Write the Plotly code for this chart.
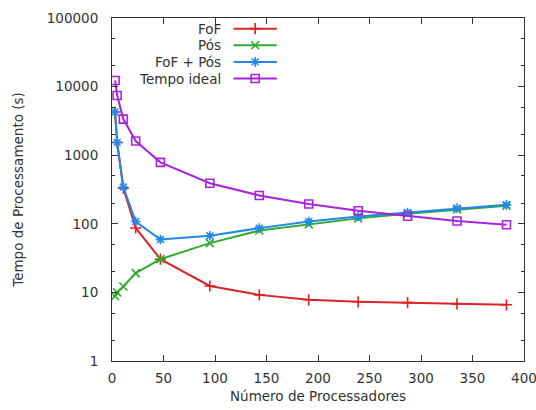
import plotly.graph_objects as go

# Número de processadores (trabalhadores)
processadores = [3, 5, 11, 23, 47, 95, 143, 191, 239, 287, 335, 383]

# Tempos medidos (s)
tempo_fof = [4260, 1530, 330, 87, 30.5, 12.4, 9.2, 7.8, 7.3, 7.1, 6.8, 6.6]
tempo_pos = [8.8, 10.0, 12.2, 19.1, 30.5, 52.3, 79.8, 98, 120, 140, 162, 183]
tempo_fof_pos = [4275, 1538, 343, 108, 59, 66.8, 86.5, 108, 128, 146, 169, 189]
tempo_ideal = [12300, 7400, 3360, 1610, 787, 390, 259, 194, 155, 129, 110, 97]

series = [
    ("FoF", tempo_fof, "#dd2222", "cross-thin-open"),
    ("Pós", tempo_pos, "#2faa2f", "x-thin-open"),
    ("FoF + Pós", tempo_fof_pos, "#2288ee", "asterisk-open"),
    ("Tempo ideal", tempo_ideal, "#aa22dd", "square-open"),
]

x_ticks = list(range(0, 401, 50))
y_ticks = [1, 10, 100, 1000, 10000, 100000]
y_tick_text = ["1", "10", "100", "1000", "10000", "100000"]
y_minor = [m * 10 ** k for k in range(0, 5) for m in (2, 5)]

font = dict(family="DejaVu Sans", size=13.5, color="#333333")
axis_color = "#333333"

fig = go.Figure()

for name, values, color, symbol in series:
    fig.add_trace(go.Scatter(
        x=processadores, y=values, name=name, mode="lines+markers",
        line=dict(color=color, width=2),
        marker=dict(symbol=symbol, size=8, color=color,
                    line=dict(color=color, width=1.6)),
        showlegend=False,
    ))

# Legenda no estilo gnuplot: texto à esquerda, amostra da linha à direita
legend_top = 0.969
legend_step = 0.0485
text_right = 0.2685
sample_x = [0.295, 0.3475, 0.400]
for i, (name, values, color, symbol) in enumerate(series):
    yy = legend_top - i * legend_step
    fig.add_trace(go.Scatter(
        x=sample_x, y=[yy] * 3, xaxis="x2", yaxis="y2", mode="lines",
        line=dict(color=color, width=2), showlegend=False, hoverinfo="skip",
    ))
    fig.add_trace(go.Scatter(
        x=[sample_x[1]], y=[yy], xaxis="x2", yaxis="y2", mode="markers",
        marker=dict(symbol=symbol, size=8, color=color,
                    line=dict(color=color, width=1.6)),
        showlegend=False, hoverinfo="skip",
    ))
    fig.add_annotation(
        x=text_right, y=yy, xref="x2", yref="y2", text=name,
        showarrow=False, xanchor="right", yanchor="middle",
        font=font,
    )

fig.update_layout(
    width=536, height=410,
    margin=dict(l=112, r=12, t=18, b=49),
    paper_bgcolor="white", plot_bgcolor="white",
    font=font,
    xaxis=dict(
        range=[0, 400], tickvals=x_ticks, ticks="inside", ticklen=6,
        tickcolor=axis_color, showline=True, linecolor=axis_color,
        linewidth=1, mirror="allticks", showgrid=False, zeroline=False,
        tickfont=font, ticklabelstandoff=5, automargin=False,
        ticklabeloverflow="allow",
        title=dict(text="Número de Processadores", font=font, standoff=6),
    ),
    yaxis=dict(
        type="log", range=[0, 5], tickvals=y_ticks, ticktext=y_tick_text,
        ticks="inside", ticklen=6, tickcolor=axis_color, showline=True,
        linecolor=axis_color, linewidth=1, mirror="allticks",
        showgrid=False, zeroline=False, tickfont=font, ticklabelstandoff=10,
        automargin=False, ticklabeloverflow="allow",
        minor=dict(tickmode="array", tickvals=y_minor, ticks="inside",
                   ticklen=3, tickcolor=axis_color, showgrid=False),
        title=dict(text="Tempo de Processamento (s)", font=font, standoff=20),
    ),
    xaxis2=dict(range=[0, 1], overlaying="x", visible=False, fixedrange=True),
    yaxis2=dict(range=[0, 1], overlaying="y", visible=False, fixedrange=True),
)

fig.write_html("out.html")
